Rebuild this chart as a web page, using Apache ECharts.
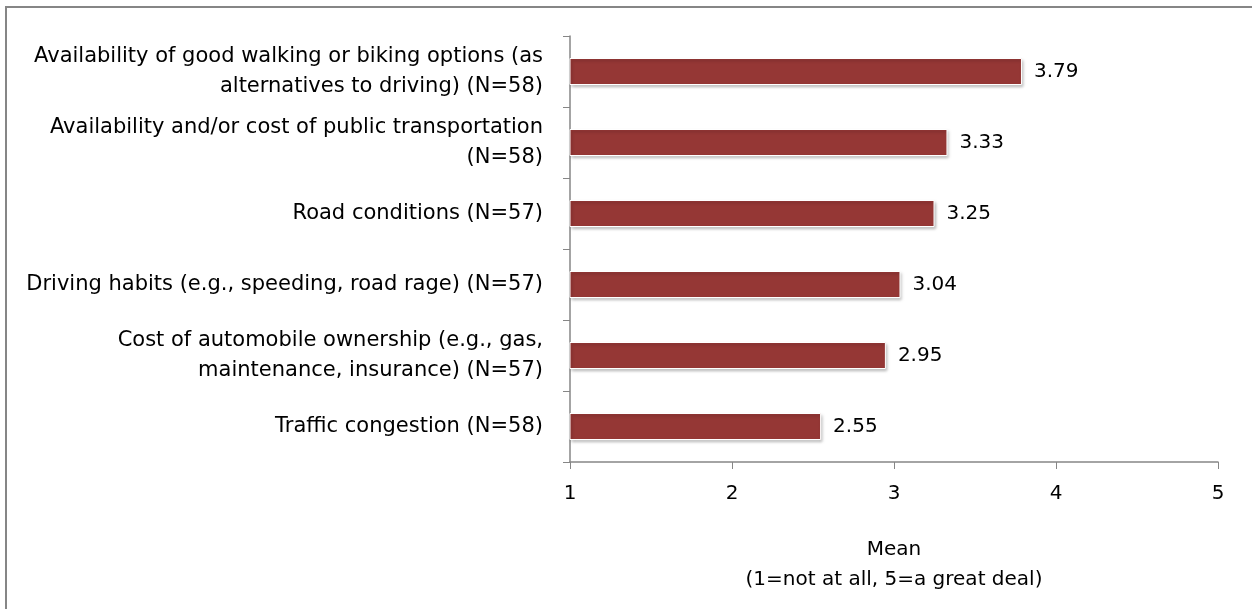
<!DOCTYPE html>
<html>
<head>
<meta charset="utf-8">
<style>
  html, body { margin: 0; padding: 0; background: #fff; }
  #main { width: 1252px; height: 609px; }
</style>
<script src="https://cdn.jsdelivr.net/npm/echarts@6/dist/echarts.min.js"></script>
</head>
<body>
<div id="main"></div>
<script>
// categories, top to bottom
var categories = [
  'Availability of good walking or biking options (as\nalternatives to driving) (N=58)',
  'Availability and/or cost of public transportation\n(N=58)',
  'Road conditions (N=57)',
  'Driving habits (e.g., speeding, road rage) (N=57)',
  'Cost of automobile ownership (e.g., gas,\nmaintenance, insurance) (N=57)',
  'Traffic congestion (N=58)'
];
var means = [3.79, 3.33, 3.25, 3.04, 2.95, 2.55];
var xTicks = [1, 2, 3, 4, 5];

var myChart = echarts.init(document.getElementById('main'));
var font = 'DejaVu Sans';

var option = {
  animation: false,
  textStyle: { fontFamily: font },
  graphic: [{
    type: 'rect',
    shape: { x: 6, y: 7, width: 1400, height: 800 },
    style: { fill: 'none', stroke: '#868686', lineWidth: 2 }
  }],
  grid: { left: 570, right: 34, top: 36, bottom: 147 },
  xAxis: {
    type: 'value',
    min: xTicks[0],
    max: xTicks[xTicks.length - 1],
    interval: 1,
    name: 'Mean\n(1=not at all, 5=a great deal)',
    nameLocation: 'middle',
    nameGap: 73,
    nameTextStyle: { fontSize: 20, color: '#000', lineHeight: 30, fontFamily: font },
    axisLine: { show: true, lineStyle: { color: '#868686', width: 1.5 } },
    axisTick: { show: true, length: 7, lineStyle: { color: '#868686' } },
    axisLabel: { fontSize: 20, color: '#000', margin: 22, fontFamily: font },
    splitLine: { show: false }
  },
  yAxis: {
    type: 'category',
    inverse: true,
    data: categories,
    axisLine: { show: true, lineStyle: { color: '#868686', width: 1.5 } },
    axisTick: { show: true, length: 7, lineStyle: { color: '#868686' } },
    axisLabel: { fontSize: 21, color: '#000', margin: 27, lineHeight: 30, align: 'right', fontFamily: font }
  },
  series: [{
    type: 'bar',
    data: means,
    barWidth: 27,
    itemStyle: {
      color: '#953735',
      borderColor: '#fff',
      borderWidth: 1,
      shadowColor: 'rgba(0,0,0,0.25)',
      shadowBlur: 3,
      shadowOffsetX: 1.5,
      shadowOffsetY: 2
    },
    label: {
      show: true,
      position: 'right',
      distance: 12,
      fontSize: 20,
      color: '#000',
      fontFamily: font,
      formatter: function (p) { return p.value.toFixed(2); }
    }
  }]
};

myChart.setOption(option);
</script>
</body>
</html>
